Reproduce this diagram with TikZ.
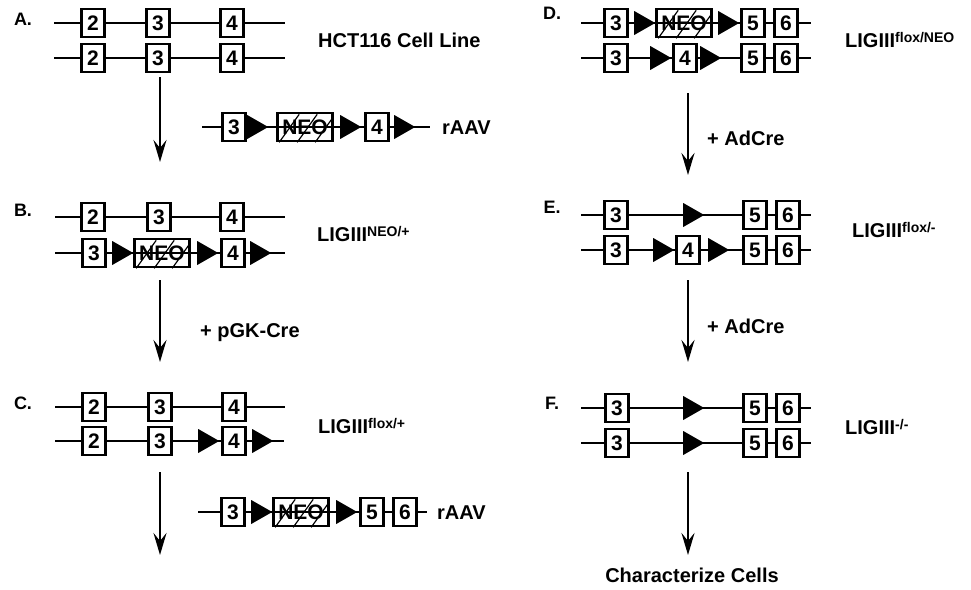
\documentclass[tikz,border=0pt]{standalone}
\usepackage{fontspec}
\setmainfont{Liberation Sans}
\usetikzlibrary{shapes.geometric, arrows.meta, calc}

\newcommand{\allele}[1]{\raisebox{5pt}{\fontsize{14}{14}\selectfont #1}}
\newcommand{\neohatch}[1]{%
  \begin{scope}
    \clip (#1.south west) rectangle (#1.north east);
    \foreach \dx in {3,21,39}
      \draw[hatch] ($(#1.south west)+(\dx,0)$) -- ++(20,-28);
  \end{scope}
  \draw[dna] (#1.west) -- (#1.east);}

\begin{document}
\begin{tikzpicture}[x=1pt, y=-1pt,
      every node/.style={font=\bfseries},
      dna/.style={line width=2.5pt},
      exon/.style={draw, line width=2.6pt, fill=white, minimum width=23pt,
          minimum height=28pt, inner sep=0pt,
          font=\fontsize{21}{21}\selectfont\bfseries},
      neo/.style={exon, minimum width=55pt},
      loxp/.style={isosceles triangle, isosceles triangle stretches,
          fill=black, minimum width=24pt, minimum height=21pt,
          inner sep=0pt, anchor=west},
      hatch/.style={line width=1.2pt},
      stage/.style={line width=2.5pt, -{Stealth[length=22pt, width=13pt, inset=8pt]}},
      panel/.style={font=\fontsize{18}{18}\selectfont\bfseries},
      tag/.style={font=\fontsize{20}{20}\selectfont\bfseries,
          anchor=base west, inner sep=0pt}]
    \useasboundingbox (0,0) rectangle (971,589);

    % A. parental line
    \node[panel] (pa) at (23,19) {A.};
    \coordinate (a1s) at (54,23); \coordinate (a1e) at (285,23);
    \draw[dna] (a1s) -- (a1e);
    \node[exon] (a12) at (93,23) {2};
    \node[exon] (a13) at (158,23) {3};
    \node[exon] (a14) at (232,23) {4};
    \coordinate (a2s) at (54,58); \coordinate (a2e) at (285,58);
    \draw[dna] (a2s) -- (a2e);
    \node[exon] (a22) at (93,58) {2};
    \node[exon] (a23) at (158,58) {3};
    \node[exon] (a24) at (232,58) {4};
    \node[tag] (la) at (318,47) {HCT116 Cell Line};
    \coordinate (aa1) at (160,77); \coordinate (aa2) at (160,162);
    \draw[stage] (aa1) -- (aa2);

    % first targeting vector
    \coordinate (v1s) at (202,127); \coordinate (v1e) at (430,127);
    \draw[dna] (v1s) -- (v1e);
    \node[exon] (v13) at (234,127) {3};
    \node[loxp] (v1l1) at (247,127) {};
    \node[neo] (v1n) at (305,127) {NEO};
    \neohatch{v1n}
    \node[loxp] (v1l2) at (340,127) {};
    \node[exon] (v14) at (377,127) {4};
    \node[loxp] (v1l3) at (394,127) {};
    \node[tag] (lv1) at (442,134) {rAAV};

    % B. NEO/+
    \node[panel] (pb) at (23,210) {B.};
    \coordinate (b1s) at (55,217); \coordinate (b1e) at (285,217);
    \draw[dna] (b1s) -- (b1e);
    \node[exon] (b12) at (93,217) {2};
    \node[exon] (b13) at (159,217) {3};
    \node[exon] (b14) at (232,217) {4};
    \coordinate (b2s) at (55,253); \coordinate (b2e) at (285,253);
    \draw[dna] (b2s) -- (b2e);
    \node[exon] (b23) at (94,253) {3};
    \node[loxp] (b2l1) at (112,253) {};
    \node[neo] (b2n) at (162,253) {NEO};
    \neohatch{b2n}
    \node[loxp] (b2l2) at (197,253) {};
    \node[exon] (b24) at (233,253) {4};
    \node[loxp] (b2l3) at (250,253) {};
    \node[tag] (lb) at (317,241) {LIGIII\allele{NEO/+}};
    \coordinate (ab1) at (160,280); \coordinate (ab2) at (160,362);
    \draw[stage] (ab1) -- (ab2);
    \node[tag] (sb) at (200,337) {+ pGK-Cre};

    % C. flox/+
    \node[panel] (pc) at (23,403) {C.};
    \coordinate (c1s) at (55,407); \coordinate (c1e) at (285,407);
    \draw[dna] (c1s) -- (c1e);
    \node[exon] (c12) at (94,407) {2};
    \node[exon] (c13) at (160,407) {3};
    \node[exon] (c14) at (234,407) {4};
    \coordinate (c2s) at (55,441); \coordinate (c2e) at (284,441);
    \draw[dna] (c2s) -- (c2e);
    \node[exon] (c22) at (94,441) {2};
    \node[exon] (c23) at (160,441) {3};
    \node[loxp] (c2l1) at (198,441) {};
    \node[exon] (c24) at (234,441) {4};
    \node[loxp] (c2l2) at (252,441) {};
    \node[tag] (lc) at (318,433) {LIGIII\allele{flox/+}};
    \coordinate (ac1) at (160,472); \coordinate (ac2) at (160,555);
    \draw[stage] (ac1) -- (ac2);

    % second targeting vector
    \coordinate (v2s) at (198,512); \coordinate (v2e) at (427,512);
    \draw[dna] (v2s) -- (v2e);
    \node[exon] (v23) at (233,512) {3};
    \node[loxp] (v2l1) at (251,512) {};
    \node[neo] (v2n) at (301,512) {NEO};
    \neohatch{v2n}
    \node[loxp] (v2l2) at (336,512) {};
    \node[exon] (v25) at (372,512) {5};
    \node[exon] (v26) at (405,512) {6};
    \node[tag] (lv2) at (437,519) {rAAV};

    % D. flox/NEO
    \node[panel] (pd) at (552,13) {D.};
    \coordinate (d1s) at (581,23); \coordinate (d1e) at (811,23);
    \draw[dna] (d1s) -- (d1e);
    \node[exon] (d13) at (616,23) {3};
    \node[loxp] (d1l1) at (634,23) {};
    \node[neo] (d1n) at (684,23) {NEO};
    \neohatch{d1n}
    \node[loxp] (d1l2) at (718,23) {};
    \node[exon] (d15) at (753,23) {5};
    \node[exon] (d16) at (786,23) {6};
    \coordinate (d2s) at (581,58); \coordinate (d2e) at (811,58);
    \draw[dna] (d2s) -- (d2e);
    \node[exon] (d23) at (616,58) {3};
    \node[loxp] (d2l1) at (650,58) {};
    \node[exon] (d24) at (685,58) {4};
    \node[loxp] (d2l2) at (700,58) {};
    \node[exon] (d25) at (753,58) {5};
    \node[exon] (d26) at (786,58) {6};
    \node[tag] (ld) at (845,47) {LIGIII\allele{flox/NEO}};
    \coordinate (ad1) at (688,93); \coordinate (ad2) at (688,175);
    \draw[stage] (ad1) -- (ad2);
    \node[tag] (sd) at (707,145) {+ AdCre};

    % E. flox/-
    \node[panel] (pe) at (552,207) {E.};
    \coordinate (e1s) at (581,215); \coordinate (e1e) at (811,215);
    \draw[dna] (e1s) -- (e1e);
    \node[exon] (e13) at (616,215) {3};
    \node[loxp] (e1l1) at (683,215) {};
    \node[exon] (e15) at (755,215) {5};
    \node[exon] (e16) at (788,215) {6};
    \coordinate (e2s) at (581,250); \coordinate (e2e) at (811,250);
    \draw[dna] (e2s) -- (e2e);
    \node[exon] (e23) at (616,250) {3};
    \node[loxp] (e2l1) at (653,250) {};
    \node[exon] (e24) at (688,250) {4};
    \node[loxp] (e2l2) at (708,250) {};
    \node[exon] (e25) at (755,250) {5};
    \node[exon] (e26) at (788,250) {6};
    \node[tag] (le) at (852,237) {LIGIII\allele{flox/-}};
    \coordinate (ae1) at (688,280); \coordinate (ae2) at (688,362);
    \draw[stage] (ae1) -- (ae2);
    \node[tag] (se) at (707,333) {+ AdCre};

    % F. -/-
    \node[panel] (pf) at (552,403) {F.};
    \coordinate (f1s) at (581,408); \coordinate (f1e) at (811,408);
    \draw[dna] (f1s) -- (f1e);
    \node[exon] (f13) at (617,408) {3};
    \node[loxp] (f1l1) at (683,408) {};
    \node[exon] (f15) at (755,408) {5};
    \node[exon] (f16) at (788,408) {6};
    \coordinate (f2s) at (581,443); \coordinate (f2e) at (811,443);
    \draw[dna] (f2s) -- (f2e);
    \node[exon] (f23) at (617,443) {3};
    \node[loxp] (f2l1) at (683,443) {};
    \node[exon] (f25) at (755,443) {5};
    \node[exon] (f26) at (788,443) {6};
    \node[tag] (lf) at (845,434) {LIGIII\allele{-/-}};
    \coordinate (af1) at (688,472); \coordinate (af2) at (688,555);
    \draw[stage] (af1) -- (af2);
    \node[font=\fontsize{20}{20}\selectfont\bfseries] (cc) at (692,575) {Characterize Cells};
  \end{tikzpicture}
\end{document}
